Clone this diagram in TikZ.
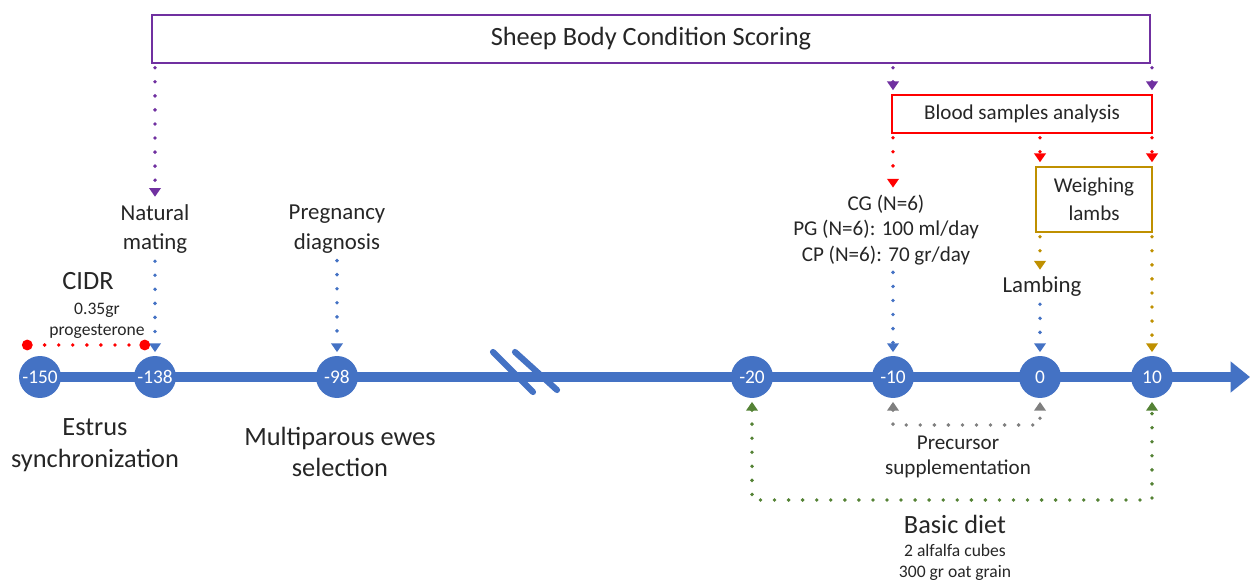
\documentclass[tikz,border=0pt]{standalone}
\usepackage{fontspec}
\setmainfont{Carlito}
\usetikzlibrary{arrows.meta,positioning,calc}
\definecolor{tlblue}{HTML}{4472C4}
\definecolor{purp}{HTML}{7030A0}
\definecolor{gold}{HTML}{BF9000}
\definecolor{grn}{HTML}{548235}
\definecolor{gry}{HTML}{7F7F7F}
\definecolor{txt}{HTML}{262626}

\begin{document}
\begin{tikzpicture}[x=0.02cm, y=-0.02cm, >={Triangle[length=5pt,width=6.5pt]},
  day/.style={circle, fill=tlblue, text=white, minimum size=0.84cm, inner sep=0pt, font=\fontsize{11}{13}\selectfont},
  lbl/.style={align=center, text=txt, inner sep=2pt, font=\fontsize{13}{17}\selectfont},
  big/.style={align=center, text=txt, inner sep=2pt, font=\fontsize{15}{18}\selectfont},
  mid/.style={align=center, text=txt, inner sep=2pt, font=\fontsize{12}{14.5}\selectfont},
  small/.style={align=center, text=txt, inner sep=1pt, font=\fontsize{10}{12}\selectfont},
  box/.style={draw, line width=1.4pt, inner sep=0pt, align=center, text=txt},
  dots/.style={line width=2.2pt, line cap=round, dash pattern=on 0pt off 8pt, shorten >=2pt, shorten <=2pt}]
  \useasboundingbox (0,0) rectangle (1251,581);

  \node[box, draw=purp, minimum width=19.96cm, minimum height=0.96cm, font=\fontsize{15}{18}\selectfont] (bcs) at (651,39) {Sheep Body Condition Scoring};
  \node[box, draw=red, minimum width=5.2cm, minimum height=0.76cm, font=\fontsize{12}{14}\selectfont] (blood) at (1022,114) {Blood samples analysis};
  \node[box, draw=gold, minimum width=2.32cm, minimum height=1.3cm, font=\fontsize{12}{16}\selectfont] (weigh) at (1094,199.5) {Weighing\\lambs};

  \coordinate (tstart) at (22,377);
  \coordinate (tend) at (1250,377);
  \draw[tlblue, line width=5.7pt, -{Triangle[length=11pt,width=17pt]}] (tstart) -- (tend);
  \draw[tlblue, line width=3.5pt, line cap=round] (493,352) -- (533,392) (515,352) -- (557,390);

  \node[day] (d150) at (40,377) {-150};
  \node[day] (d138) at (155,377) {-138};
  \node[day] (d98) at (337,377) {-98};
  \node[day] (d20) at (752,377) {-20};
  \node[day] (d10m) at (893,377) {-10};
  \node[day] (d0) at (1040,377) {0};
  \node[day] (d10) at (1152,377) {10};

  \node[lbl] (nat) at (155,229) {Natural\\mating};
  \node[lbl] (preg) at (337,229) {Pregnancy\\diagnosis};
  \node[big] (cidr) at (88,281) {CIDR};
  \node[small] (prog) at (97,321) {0.35gr\\progesterone};
  \node[mid] (cg) at (886,230) {CG (N=6)\\PG (N=6): 100 ml/day\\CP (N=6): 70 gr/day};
  \node[lbl] (lamb) at (1042,287) {Lambing};
  \node[big] (estrus) at (95,445) {Estrus\\synchronization};
  \node[big] (multi) at (340,452) {Multiparous ewes\\selection};
  \node[mid] (prec) at (958,457) {Precursor\\supplementation};
  \node[big] (basic) at (955,524) {Basic diet};
  \node[small] (feed) at (955,562) {2 alfalfa cubes\\300 gr oat grain};

  \coordinate (cidrL) at (22,345);
  \coordinate (cidrR) at (150,345);
  \coordinate (precline) at (0,425);
  \coordinate (dietline) at (0,500);

  \draw[dots, purp, ->] (bcs.south -| d138) -- (nat.north);
  \draw[dots, purp, ->] (bcs.south -| d10m) -- (blood.north -| d10m);
  \draw[dots, purp, ->] (bcs.south -| d10) -- (blood.north -| d10);
  \draw[dots, red, ->] (blood.south -| d10m) -- (cg.north -| d10m);
  \draw[dots, red, ->] (blood.south -| d0) -- (weigh.north -| d0);
  \draw[dots, red, ->] (blood.south -| d10) -- (weigh.north -| d10);
  \draw[dots, gold, ->] (weigh.south -| d0) -- (lamb.north -| d0);
  \draw[dots, gold, ->] (weigh.south -| d10) -- (d10.north);
  \draw[dots, tlblue, ->] (nat.south) -- (d138.north);
  \draw[dots, tlblue, ->] (preg.south) -- (d98.north);
  \draw[dots, tlblue, ->] (cg.south -| d10m) -- (d10m.north);
  \draw[dots, tlblue, ->] (lamb.south -| d0) -- (d0.north);
  \draw[dots, red, shorten <=0pt, shorten >=0pt, {Circle[length=6pt]}-{Circle[length=6pt]}] (cidrL) -- (cidrR);
  \draw[dots, gry, <->] (d10m.south) -- (d10m.south |- precline) -- (d0.south |- precline) -- (d0.south);
  \draw[dots, grn, <->] (d20.south) -- (d20.south |- dietline) -- (d10.south |- dietline) -- (d10.south);
\end{tikzpicture}
\end{document}
